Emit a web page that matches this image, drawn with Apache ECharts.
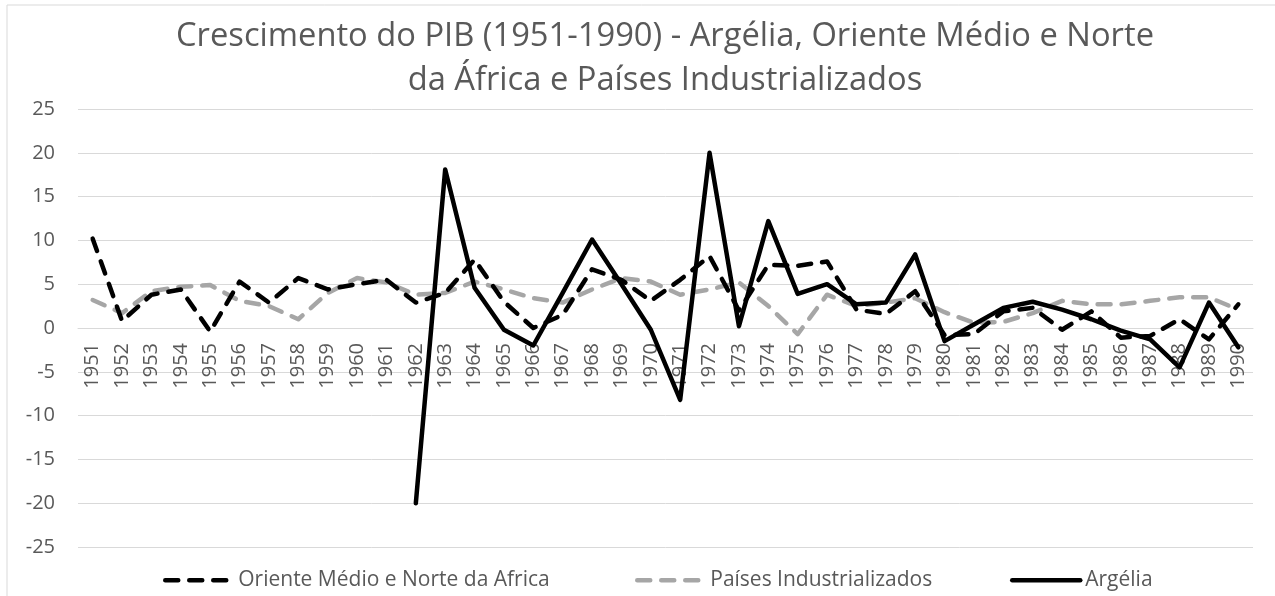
<!DOCTYPE html>
<html>
<head>
<meta charset="utf-8">
<script src="https://cdn.jsdelivr.net/npm/echarts@6/dist/echarts.min.js"></script>
<style>
html,body{margin:0;padding:0;background:#fff;}
#chart{width:1275px;height:596px;}
</style>
</head>
<body>
<div id="chart"></div>
<script>
const years = ['1951','1952','1953','1954','1955','1956','1957','1958','1959','1960',
  '1961','1962','1963','1964','1965','1966','1967','1968','1969','1970',
  '1971','1972','1973','1974','1975','1976','1977','1978','1979','1980',
  '1981','1982','1983','1984','1985','1986','1987','1988','1989','1990'];

const orienteMedio = [10.2, 0.8, 3.8, 4.4, -0.4, 5.3, 2.9, 5.7, 4.4, 5.0,
  5.5, 2.9, 4.0, 7.8, 3.0, 0.0, 1.5, 6.7, 5.5, 3.1,
  5.5, 8.2, 2.0, 7.2, 7.1, 7.6, 2.1, 1.6, 4.2, -0.8,
  -0.7, 1.9, 2.3, -0.2, 1.9, -1.1, -0.9, 1.0, -1.3, 2.7];

const paisesIndustrializados = [3.2, 1.7, 4.2, 4.7, 4.9, 3.1, 2.5, 1.0, 4.0, 5.7,
  5.2, 3.8, 4.0, 5.3, 4.4, 3.4, 2.9, 4.4, 5.7, 5.3,
  3.8, 4.4, 5.2, 2.5, -0.7, 3.8, 2.5, 2.9, 3.4, 1.8,
  0.6, 0.7, 1.7, 3.1, 2.7, 2.7, 3.1, 3.5, 3.5, 2.1];

const argelia = [null, null, null, null, null, null, null, null, null, null,
  null, -20.0, 18.1, 4.6, -0.2, -2.0, 4.0, 10.1, 5.0, -0.2,
  -8.2, 20.0, 0.2, 12.2, 3.9, 5.0, 2.7, 2.9, 8.4, -1.5,
  0.4, 2.3, 3.0, 2.1, 1.0, -0.3, -1.3, -4.5, 2.9, -2.2];

const yTicks = {min: -25, max: 25, interval: 5};

const FONT = '"Open Sans", sans-serif';
const TXT = '#595959';
const GRID = '#d9d9d9';

const GRID_TOP = 109, GRID_BOTTOM = 49, H = 596;
const plotH = H - GRID_TOP - GRID_BOTTOM;
// shift the category axis (line + labels) up to the zero line
const zeroOffset = -plotH * (0 - yTicks.min) / (yTicks.max - yTicks.min);

const chart = echarts.init(document.getElementById('chart'), null, {renderer: 'canvas'});

function legendAt(name, left, dash) {
  return {
    data: [name],
    left: left,
    top: 564,
    itemWidth: 68,
    itemHeight: 28,
    itemStyle: {opacity: 0},
    lineStyle: {width: 4.5, type: dash, cap: 'round'},
    textStyle: {fontFamily: FONT, fontSize: 21, color: TXT},
    selectedMode: false
  };
}

chart.setOption({
  animation: false,
  backgroundColor: '#fff',
  title: {
    text: 'Crescimento do PIB (1951-1990) - Argélia, Oriente Médio e Norte\nda África e Países Industrializados',
    left: 660,
    top: 10,
    textAlign: 'center',
    textStyle: {fontFamily: FONT, fontSize: 32.7, fontWeight: 'normal', color: TXT, lineHeight: 44}
  },
  graphic: [{
    type: 'rect',
    shape: {x: 7, y: 5, width: 1300, height: 620},
    style: {fill: 'none', stroke: GRID, lineWidth: 1},
    silent: true
  }],
  legend: [
    legendAt('Oriente Médio e Norte da Africa', 158, [13, 11]),
    legendAt('Países Industrializados', 630, [13, 11]),
    legendAt('Argélia', 1005, 'solid')
  ],
  grid: {left: 78, right: 22, top: GRID_TOP, bottom: GRID_BOTTOM},
  xAxis: {
    type: 'category',
    data: years,
    boundaryGap: true,
    offset: zeroOffset,
    axisLine: {onZero: false, lineStyle: {color: GRID, width: 1}},
    axisTick: {show: false},
    splitLine: {show: false},
    axisLabel: {rotate: 90, interval: 0, margin: 15, fontFamily: FONT, fontSize: 20, color: TXT}
  },
  yAxis: {
    type: 'value',
    min: yTicks.min,
    max: yTicks.max,
    interval: yTicks.interval,
    axisLine: {show: false},
    axisTick: {show: false},
    splitLine: {lineStyle: {color: GRID, width: 1}},
    axisLabel: {margin: 23, fontFamily: FONT, fontSize: 20, color: TXT}
  },
  series: [
    {
      name: 'Oriente Médio e Norte da Africa',
      type: 'line',
      data: orienteMedio,
      symbol: 'none',
      z: 3,
      lineStyle: {color: '#000', width: 4.5, type: [13, 11], cap: 'round', join: 'round'},
      itemStyle: {color: '#000'}
    },
    {
      name: 'Países Industrializados',
      type: 'line',
      data: paisesIndustrializados,
      symbol: 'none',
      z: 2,
      lineStyle: {color: '#a6a6a6', width: 4.5, type: [13, 11], cap: 'round', join: 'round'},
      itemStyle: {color: '#a6a6a6'}
    },
    {
      name: 'Argélia',
      type: 'line',
      data: argelia,
      symbol: 'none',
      z: 4,
      connectNulls: false,
      lineStyle: {color: '#000', width: 4.5, type: 'solid', cap: 'round', join: 'round'},
      itemStyle: {color: '#000'}
    }
  ]
});
</script>
</body>
</html>
